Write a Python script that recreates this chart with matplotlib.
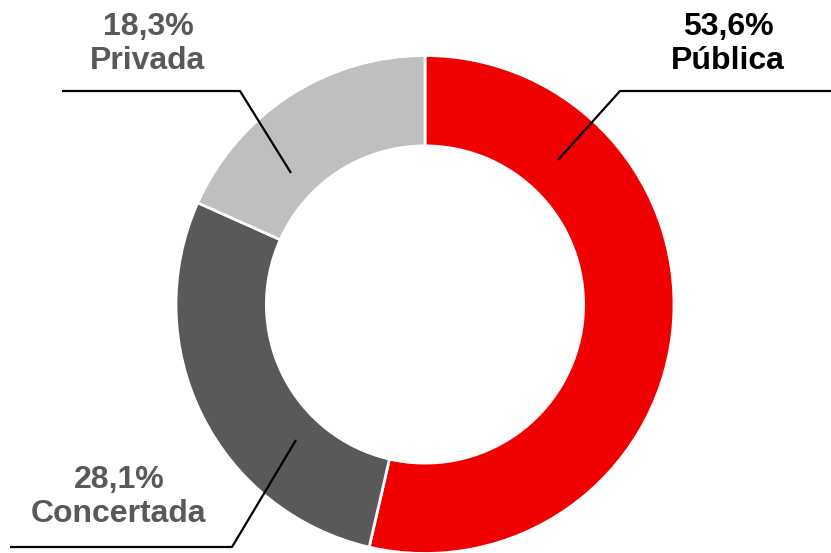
import matplotlib
matplotlib.use("Agg")
import matplotlib.pyplot as plt

categories = ["Pública", "Concertada", "Privada"]
values = [53.6, 28.1, 18.3]
labels = ["53,6%", "28,1%", "18,3%"]
colors = ["#F00000", "#595959", "#BFBFBF"]
text_colors = ["#000000", "#595959", "#595959"]

W, H = 831, 553
fig = plt.figure(figsize=(W / 100, H / 100), dpi=100)
ax = fig.add_axes([0, 0, 1, 1])

cx, cy = 425, H - 304.5
R = 249
ax.pie(values, colors=colors, startangle=90, counterclock=False,
       center=(cx, cy), radius=R, frame=True,
       wedgeprops=dict(width=R * 0.363, edgecolor="white", linewidth=2))
ax.set_xlim(0, W)
ax.set_ylim(0, H)
ax.set_aspect("equal")
ax.axis("off")

font = dict(family=["Liberation Sans", "DejaVu Sans"], fontsize=23, fontweight="bold",
            ha="center", va="center", linespacing=1.2)
text_pos = [(728, 44), (119, 497), (148, 44)]
leaders = [
    [(558, 160), (620, 91), (831, 91)],
    [(296, 440), (232, 547), (10, 547)],
    [(291, 173), (240, 91), (62, 91)],
]
for cat, lab, tc, (tx, ty), pts in zip(categories, labels, text_colors, text_pos, leaders):
    ax.text(tx, H - ty, f"{lab}\n{cat}", color=tc, **font)
    xs = [p[0] for p in pts]
    ys = [H - p[1] for p in pts]
    ax.plot(xs, ys, color="black", linewidth=1.6, solid_capstyle="butt")

fig.savefig("out.png", dpi=100, facecolor="white")
